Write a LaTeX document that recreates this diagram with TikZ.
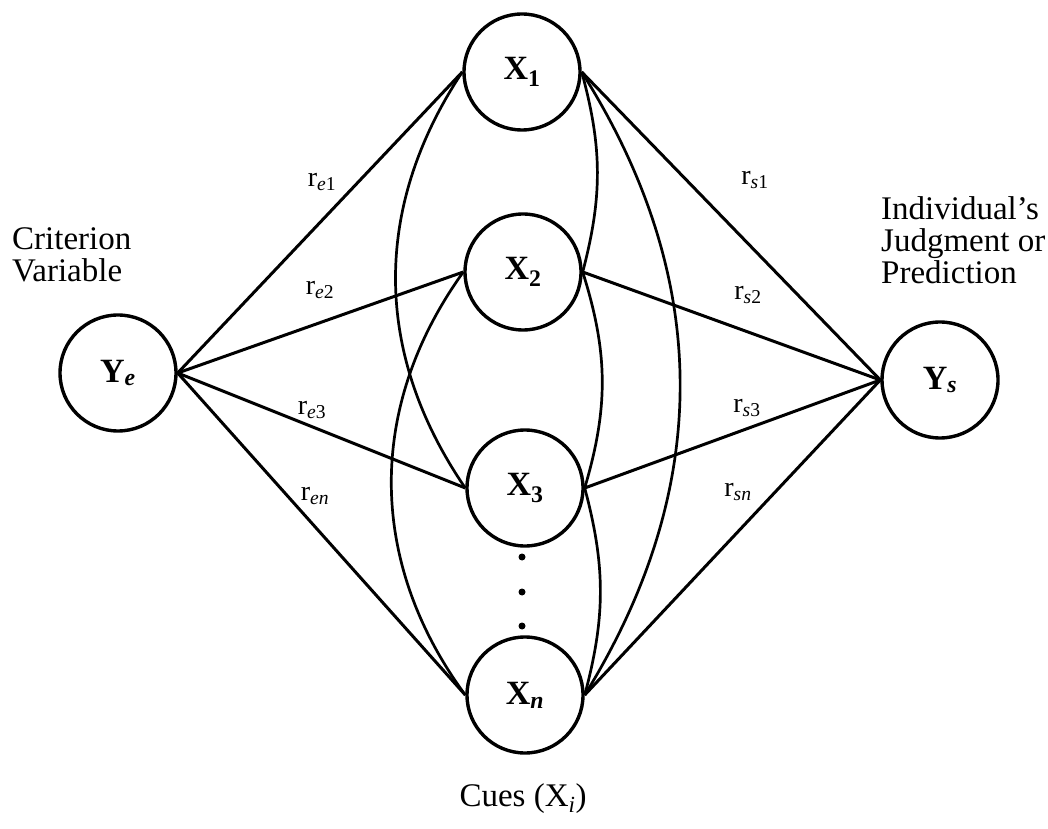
\documentclass[tikz,border=0pt]{standalone}
\usepackage{fontspec}
\setmainfont{Liberation Serif}
\newcommand{\rlab}[2]{r\textsubscript{\textit{#1}#2}}
\begin{document}
\begin{tikzpicture}[x=1pt,y=1pt,
  var/.style={circle,draw,line width=3.4pt,minimum size=116pt,inner sep=0pt,
    font=\fontsize{34}{34}\selectfont\bfseries},
  edge/.style={line width=3pt},
  arc/.style={line width=2.7pt},
  lab/.style={font=\fontsize{28}{28}\selectfont},
  txt/.style={font=\fontsize{33}{32}\selectfont,align=left,inner sep=0pt}]
\useasboundingbox (0,0) rectangle (1048,828);
% variables
\node[var] (Ye) at (118,455) {Y\textsubscript{\textit{e}}};
\node[var] (Ys) at (940,448) {Y\textsubscript{\textit{s}}};
\node[var] (X1) at (522,756) {X\textsubscript{1}};
\node[var] (X2) at (523,556) {X\textsubscript{2}};
\node[var] (X3) at (525,340) {X\textsubscript{3}};
\node[var] (Xn) at (525,133) {X\textsubscript{\textit{n}}};
% dots
\fill (522,271) circle (3.5pt);
\fill (522,236) circle (3.5pt);
\fill (522,202) circle (3.5pt);
% straight connectors
\foreach \x in {X1,X2,X3,Xn}{
  \draw[edge] (Ye.east) -- (\x.west);
  \draw[edge] (\x.east) -- (Ys.west);
}
% intercorrelation arcs
\draw[arc] (X1.west) to[bend right=34] (X3.west);
\draw[arc] (X2.west) to[bend right=36] (Xn.west);
\draw[arc] (X1.east) to[bend left=15] (X2.east);
\draw[arc] (X2.east) to[bend left=17] (X3.east);
\draw[arc] (X3.east) to[bend left=15] (Xn.east);
\draw[arc] (X1.east) to[bend left=32] (Xn.east);
% correlation labels
\node[lab] (re1) at (322,646) {\rlab{e}{1}};
\node[lab] (re2) at (320,538) {\rlab{e}{2}};
\node[lab] (re3) at (312,418) {\rlab{e}{3}};
\node[lab] (ren) at (315,332) {\rlab{e}{\textit{n}}};
\node[lab] (rs1) at (755,648) {\rlab{s}{1}};
\node[lab] (rs2) at (748,533) {\rlab{s}{2}};
\node[lab] (rs3) at (747,420) {\rlab{s}{3}};
\node[lab] (rsn) at (738,336) {\rlab{s}{\textit{n}}};
% texts
\node[txt,anchor=base west] (crit) at (12,546) {Criterion\\Variable};
\node[txt,anchor=base west] (indiv) at (881,544) {Individual's\\Judgment or\\Prediction};
\node[txt,anchor=base] (cues) at (523,22) {Cues (X\textsubscript{\textit{i}})};
\end{tikzpicture}
\end{document}
